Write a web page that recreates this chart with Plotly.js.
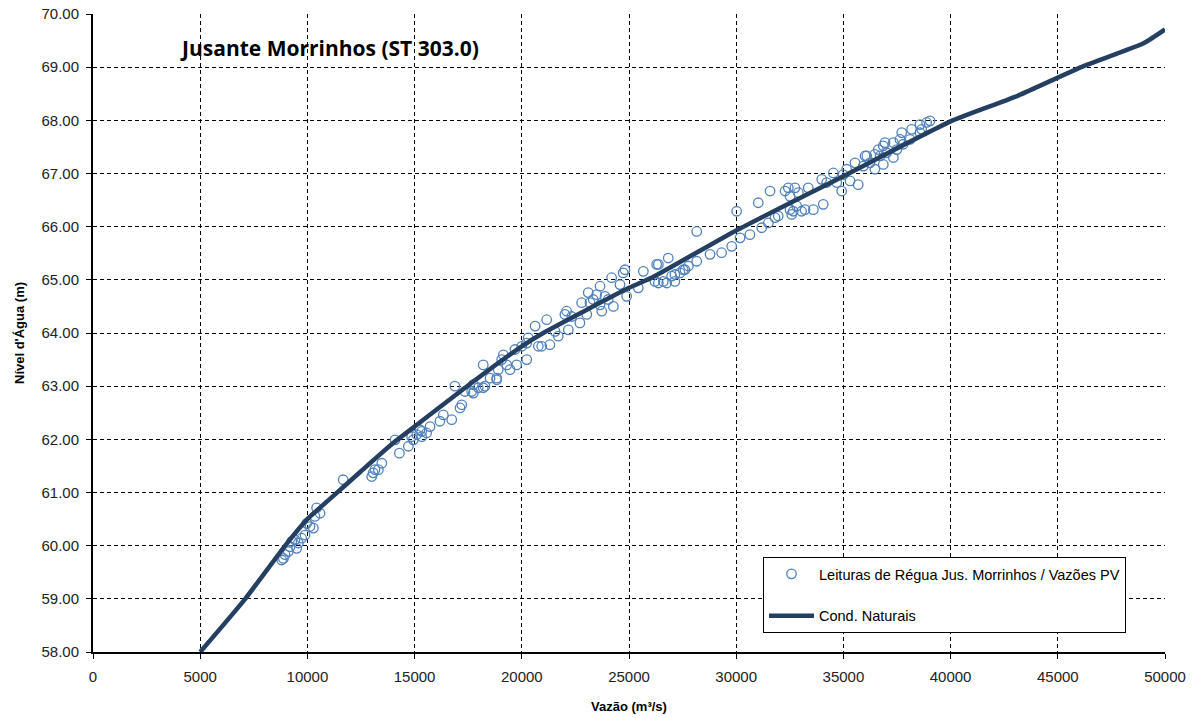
<!DOCTYPE html>
<html>
<head>
<meta charset="utf-8">
<script src="https://cdn.plot.ly/plotly-3.0.1.min.js"></script>
<style>html,body{margin:0;padding:0;background:#fff;}#chart{width:1197px;height:718px;}</style>
</head>
<body>
<div id="chart"></div>
<script>
// Observed readings: flow (m3/s) and water level (m)
const obsQ = [8800,8880,8960,9110,9190,9270,9420,9500,9580,9730,9890,9970,10120,10280,10430,10590,10350,11670,
13000,13070,13150,13310,13470,14090,14290,14710,14940,15100,15250,15330,15560,15720,16180,16340,16730,17120,17200,
16880,17350,17740,17970,18200,18830,15330,14860,17660,17740,18280,18200,18520,18830,18900,19060,19140,19300,19450,
19760,19680,20000,20230,20300,20230,20620,20770,20930,21160,21310,21550,21700,22170,22010,22090,22330,22710,22790,
23030,23100,23180,23330,23490,23650,23650,23880,23730,24030,24270,24190,24580,24730,24810,24890,25430,25670,26290,
26370,26600,26760,26830,26990,27140,27380,27610,28160,26210,26370,27140,27530,27770,28160,28780,29320,29790,30020,
30180,30640,31030,31190,31580,31500,31810,31960,32280,32430,32510,32510,32590,32660,32740,32820,32900,33050,33210,
33360,33600,33990,34060,34220,34530,34690,34920,34990,35150,35310,35540,35690,35930,36090,36240,36470,36710,36860,
37020,37330,37490,36010,36470,36630,36860,36940,37330,37640,37720,37790,38110,38180,38570,38570,38650,38880,39040];
const obsH = [59.73,59.76,59.83,59.89,59.98,60.08,60.11,59.95,60.05,60.14,60.20,60.42,60.36,60.33,60.71,60.61,60.55,61.24,
61.30,61.37,61.43,61.43,61.55,61.99,61.74,61.87,61.99,62.09,62.18,62.05,62.12,62.24,62.34,62.46,62.37,62.59,62.65,
63.00,62.90,62.87,62.97,62.97,63.12,62.15,62.05,62.90,63.03,63.00,63.40,63.15,63.15,63.31,63.50,63.59,63.40,63.31,
63.40,63.69,63.75,63.81,63.91,63.50,64.13,63.75,63.75,64.25,63.78,64.03,63.94,64.06,64.35,64.41,64.31,64.19,64.57,
64.35,64.76,64.57,64.63,64.72,64.88,64.53,64.69,64.41,64.63,64.50,65.04,64.91,65.13,65.19,64.69,64.85,65.16,65.29,
64.94,64.97,64.94,65.41,65.07,64.97,65.13,65.19,65.35,64.97,65.29,65.10,65.19,65.26,65.91,65.48,65.51,65.63,66.29,
65.79,65.85,66.45,65.98,66.67,66.07,66.17,66.20,66.67,66.73,66.57,66.32,66.23,66.29,66.73,66.39,66.64,66.29,66.32,
66.73,66.32,66.89,66.42,66.83,67.01,66.83,66.67,66.98,67.08,66.86,67.20,66.79,67.14,67.33,67.20,67.08,67.33,67.17,
67.39,67.30,67.45,67.33,67.36,67.45,67.52,67.58,67.58,67.64,67.77,67.55,67.64,67.83,67.92,67.77,67.83,67.96,67.99];

// Rating curve (natural conditions)
const curveQ = [5000,7100,9000,10000,11000,12500,14000,15000,17450,20000,21000,25000,26100,30000,35000,40000,43000,46200,49000,50000];
const curveH = [58.00,59.00,60.02,60.50,60.86,61.40,61.93,62.24,63.00,63.75,64.00,64.85,65.05,65.93,66.95,67.98,68.44,69.02,69.45,69.71];

const xTicks = [0,5000,10000,15000,20000,25000,30000,35000,40000,45000,50000];
const yTicks = [58,59,60,61,62,63,64,65,66,67,68,69,70];

const chartTitle = "Jusante Morrinhos (ST 303.0)";
const obsName = "Leituras de Régua Jus. Morrinhos / Vazões PV";
const curveName = "Cond. Naturais";

const tickFont = {family: "Liberation Sans, Arial, sans-serif", size: 15, color: "#222"};

const traces = [
  {x: obsQ, y: obsH, type: "scatter", mode: "markers", name: obsName, legendgroup: "a",
   marker: {symbol: "circle-open", size: 9.5, color: "#4F81BD", line: {width: 1.3, color: "#4F81BD"}}},
  {x: curveQ, y: curveH, type: "scatter", mode: "lines", name: curveName, legendgroup: "b",
   line: {color: "#243F60", width: 4.5, shape: "spline", smoothing: 0.5}}
];

const axisCommon = {
  showgrid: true, gridcolor: "#000", griddash: "4px,3px", gridwidth: 1,
  showline: true, linecolor: "#000", linewidth: 2,
  ticks: "outside", ticklen: 5, tickcolor: "#000", tickwidth: 1,
  tickfont: tickFont, zeroline: false
};

const layout = {
  width: 1197, height: 718,
  margin: {l: 93, r: 32, t: 14, b: 66},
  paper_bgcolor: "#fff", plot_bgcolor: "#fff",
  showlegend: true,
  xaxis: Object.assign({}, axisCommon, {
    range: [0, 50000], tickvals: xTicks, ticktext: xTicks.map(String), ticklabelstandoff: 5,
    title: {text: "Vazão (m³/s)", font: {family: "Liberation Sans, Arial, sans-serif", size: 13, color: "#000", weight: "bold"}, standoff: 18}
  }),
  yaxis: Object.assign({}, axisCommon, {
    range: [58, 70], tickvals: yTicks, ticktext: yTicks.map(v => v.toFixed(2)), ticklabelstandoff: 4,
    title: {text: "Nível d'Água (m)", font: {family: "Liberation Sans, Arial, sans-serif", size: 13, color: "#000", weight: "bold"}, standoff: 14}
  }),
  legend: {
    x: 0.625, y: 0.149, xanchor: "left", yanchor: "top",
    bgcolor: "#fff", bordercolor: "#000", borderwidth: 1,
    font: {family: "Liberation Sans, Arial, sans-serif", size: 14.5, color: "#000"},
    traceorder: "grouped", tracegroupgap: 20, itemwidth: 45
  },
  annotations: [{
    text: chartTitle, xref: "paper", yref: "paper", x: 0.079, y: 0.947,
    xanchor: "left", yanchor: "middle", showarrow: false,
    font: {family: "Open Sans, sans-serif", size: 21, color: "#000", weight: "bold"}
  }]
};

Plotly.newPlot("chart", traces, layout, {displayModeBar: false, staticPlot: true});
</script>
</body>
</html>
